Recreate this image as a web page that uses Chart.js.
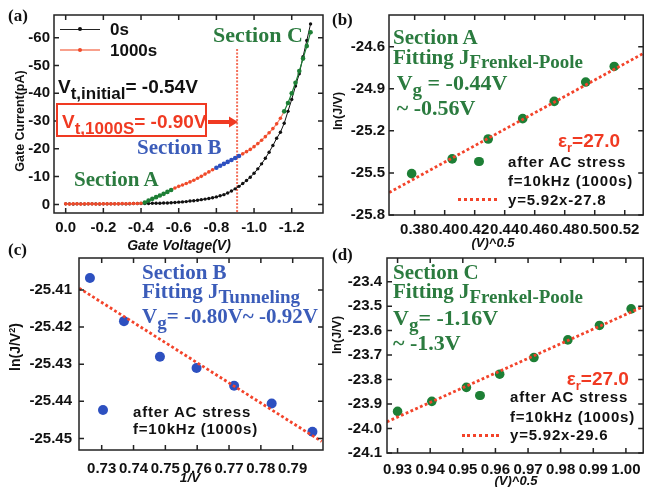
<!DOCTYPE html>
<html>
<head>
<meta charset="utf-8">
<script src="https://cdn.jsdelivr.net/npm/chart.js@4.4.1/dist/chart.umd.min.js"></script>
<style>
  body { margin: 0; background: #fff; }
  #wrap { position: relative; width: 648px; height: 487px; overflow: hidden; background: #fff; }
  #wrap canvas { position: absolute; }
  .t { position: absolute; line-height: 1; white-space: nowrap; }
  .sans { font-family: "Liberation Sans", Arial, sans-serif; font-weight: bold; }
  .serif { font-family: "Liberation Serif", "Times New Roman", serif; font-weight: bold; }
  .ital { font-style: italic; }
  .sub { position: relative; }
  .leg { letter-spacing: 0.8px; }
  .dot { position: absolute; border-radius: 50%; }
</style>
</head>
<body>
<div id="wrap">
  <canvas id="chartA" width="330" height="240" style="left:0;top:0"></canvas>
  <canvas id="chartB" width="323" height="240" style="left:325px;top:0"></canvas>
  <canvas id="chartC" width="330" height="247" style="left:0;top:240px"></canvas>
  <canvas id="chartD" width="323" height="247" style="left:325px;top:240px"></canvas>
</div>
<script>
// (a) gate current (pA) vs gate voltage (V)
const aVolt = [0, -0.02, -0.04, -0.06, -0.08, -0.10, -0.12, -0.14, -0.16, -0.18, -0.20, -0.22,
  -0.24, -0.26, -0.28, -0.30, -0.32, -0.34, -0.36, -0.38, -0.40, -0.42, -0.44, -0.46, -0.48,
  -0.50, -0.52, -0.54, -0.56, -0.58, -0.60, -0.62, -0.64, -0.66, -0.68, -0.70, -0.72, -0.74,
  -0.76, -0.78, -0.80, -0.82, -0.84, -0.86, -0.88, -0.90, -0.92, -0.94, -0.96, -0.98, -1.00,
  -1.02, -1.04, -1.06, -1.08, -1.10, -1.12, -1.14, -1.16, -1.18, -1.20, -1.22, -1.24, -1.26,
  -1.28, -1.30];
const aCur0s = [-0.2, -0.2, -0.1, -0.2, -0.2, -0.1, -0.2, -0.2, -0.2, -0.1, -0.2, -0.2,
  -0.2, -0.2, -0.2, -0.2, -0.2, -0.2, -0.3, -0.3, -0.3, -0.3, -0.3, -0.4, -0.4,
  -0.4, -0.5, -0.5, -0.6, -0.7, -0.8, -0.9, -1.0, -1.2, -1.3, -1.5, -1.7, -1.9,
  -2.1, -2.4, -2.7, -3.1, -3.5, -4.1, -4.8, -5.6, -6.5, -7.5, -8.6, -9.8, -11.2,
  -12.8, -14.6, -16.6, -18.8, -21.2, -23.8, -26.0, -29.2, -33.5, -37.8, -42.6, -47.0, -53.2,
  -59.0, -65.0];
const aCur1000s = [-0.2, -0.1, -0.2, -0.2, -0.1, -0.2, -0.2, -0.2, -0.1, -0.2, -0.2, -0.2,
  -0.2, -0.2, -0.2, -0.3, -0.2, -0.3, -0.3, -0.3, -0.4, -0.7, -1.4, -2.0, -2.6,
  -3.2, -3.8, -4.5, -5.2, -5.9, -6.5, -7.0, -7.5, -8.1, -8.7, -9.4, -10.1, -10.9,
  -11.7, -12.5, -13.2, -13.9, -14.6, -15.3, -16.0, -16.7, -17.4, -18.2, -19.0, -19.8, -20.8,
  -21.9, -23.1, -24.4, -25.8, -27.3, -29.0, -31.0, -33.5, -36.5, -40.0, -43.8, -48.0, -52.5,
  -57.0, -62.0];
const sectionA = [-0.42, -0.56];
const sectionB = [-0.80, -0.92];
const sectionC = [-1.16, -1.30];
const vtLineX = [-0.91, -0.91];
const vtLineY = [-56, 3.2];
const aXTicks = [0, -0.2, -0.4, -0.6, -0.8, -1.0, -1.2];
const aYTicks = [0, -10, -20, -30, -40, -50, -60];

// (b) section A, Frenkel-Poole
const bX = [0.378, 0.405, 0.429, 0.452, 0.473, 0.494, 0.513];
const bY = [-25.505, -25.400, -25.258, -25.113, -24.990, -24.852, -24.741];
const bFitX = [0.363, 0.532];
const bFitY = [-25.64, -24.65];
const bXTicks = [0.38, 0.40, 0.42, 0.44, 0.46, 0.48, 0.50, 0.52];
const bYTicks = [-24.6, -24.9, -25.2, -25.5, -25.8];

// (c) section B, tunneling
const cX = [0.7263, 0.7370, 0.7483, 0.7598, 0.7716, 0.7834, 0.7962];
const cY = [-25.4068, -25.4184, -25.4280, -25.4310, -25.4358, -25.4406, -25.4482];
const cFitX = [0.7229, 0.7991];
const cFitY = [-25.4095, -25.4508];
const cXTicks = [0.73, 0.74, 0.75, 0.76, 0.77, 0.78, 0.79];
const cYTicks = [-25.41, -25.42, -25.43, -25.44, -25.45];

// (d) section C, Frenkel-Poole
const dX = [0.9300, 0.9405, 0.9511, 0.9613, 0.9718, 0.9822, 0.9919, 1.0016];
const dY = [-23.930, -23.889, -23.832, -23.778, -23.710, -23.638, -23.579, -23.511];
const dFitX = [0.9267, 1.0053];
const dFitY = [-23.973, -23.502];
const dXTicks = [0.93, 0.94, 0.95, 0.96, 0.97, 0.98, 0.99, 1.00];
const dYTicks = [-23.4, -23.5, -23.6, -23.7, -23.8, -23.9, -24.0, -24.1];

const GREEN = '#2b7b3f', GREEN_DOT = '#1d7f35';
const BLUE = '#3b5cb9', BLUE_DOT = '#2d50c0';
const RED = '#f03a22', FIT_RED = '#f3432a';

const pts = (xs, ys) => xs.map((x, i) => ({ x, y: ys[i] }));

function inSec(v, s) { return v <= s[0] && v >= s[1]; }
function secColor(v) {
  if (inSec(v, sectionA) || inSec(v, sectionC)) return GREEN_DOT;
  if (inSec(v, sectionB)) return BLUE_DOT;
  return null;
}

// frame + inward tick marks on all four sides
const frameTicks = {
  id: 'frameTicks',
  afterDraw(chart) {
    const { ctx, chartArea: a, scales: { x, y } } = chart;
    ctx.save();
    ctx.strokeStyle = '#222';
    ctx.lineWidth = 1.5;
    ctx.strokeRect(a.left, a.top, a.right - a.left, a.bottom - a.top);
    ctx.beginPath();
    x.ticks.forEach(t => {
      const px = x.getPixelForValue(t.value);
      ctx.moveTo(px, a.bottom); ctx.lineTo(px, a.bottom - 5);
      ctx.moveTo(px, a.top); ctx.lineTo(px, a.top + 5);
    });
    y.ticks.forEach(t => {
      const py = y.getPixelForValue(t.value);
      ctx.moveTo(a.left, py); ctx.lineTo(a.left + 5, py);
      ctx.moveTo(a.right, py); ctx.lineTo(a.right - 5, py);
    });
    ctx.stroke();
    ctx.restore();
  }
};

function scale(min, max, values, digits, reverse, pad, fit) {
  return {
    type: 'linear', min, max, reverse,
    grid: { display: false, drawTicks: false },
    border: { display: false },
    afterBuildTicks: s => { s.ticks = values.map(v => ({ value: v })); },
    afterFit: fit,
    ticks: {
      autoSkip: false, maxRotation: 0, minRotation: 0, padding: pad, color: '#111',
      font: { family: 'Liberation Sans', weight: 'bold', size: 15 },
      callback: v => v.toFixed(digits)
    }
  };
}
const fixW = w => s => { s.width = w; s.paddingTop = 0; s.paddingBottom = 0; };
const fixH = h => s => { s.height = h; s.paddingLeft = 0; s.paddingRight = 0; };

function makeChart(id, datasets, xs, ys, top, right) {
  return new Chart(document.getElementById(id), {
    type: 'scatter',
    data: { datasets },
    options: {
      responsive: false, animation: false, devicePixelRatio: 1,
      layout: { padding: { left: 0, top, right, bottom: 0 } },
      plugins: { legend: { display: false }, tooltip: { enabled: false } },
      scales: { x: xs, y: ys }
    },
    plugins: [frameTicks]
  });
}

// (a)
makeChart('chartA', [
  {
    data: pts(vtLineX, vtLineY), showLine: true, pointRadius: 0,
    borderColor: '#f4705a', borderWidth: 2, borderDash: [2, 1.5], order: 3
  },
  {
    data: pts(aVolt, aCur0s), showLine: true, borderColor: '#111', borderWidth: 1,
    pointRadius: 1.7, pointBackgroundColor: '#111', pointBorderWidth: 0, order: 2
  },
  {
    data: pts(aVolt, aCur1000s), showLine: true, borderColor: '#f5866e', borderWidth: 1.2,
    pointRadius: ctx => secColor(aVolt[ctx.dataIndex]) ? 2.3 : 1.8,
    pointBackgroundColor: ctx => secColor(aVolt[ctx.dataIndex]) || '#f04a2a',
    pointBorderWidth: 0,
    segment: {
      borderColor: ctx => {
        const c0 = secColor(aVolt[ctx.p0DataIndex]), c1 = secColor(aVolt[ctx.p1DataIndex]);
        return c0 && c0 === c1 ? c0 : '#f5866e';
      }
    },
    order: 1
  }
], scale(-1.366, 0.062, aXTicks, 1, true, 6, fixH(27)),
   scale(-68.2, 3.1, aYTicks, 0, true, 4, fixW(54)), 15, 7);

// (b)
makeChart('chartB', [
  { data: pts(bFitX, bFitY), showLine: true, pointRadius: 0, borderColor: FIT_RED,
    borderWidth: 2.8, borderDash: [2.8, 2.4], order: 0 },
  { data: pts(bX, bY), pointRadius: 4.8, pointBackgroundColor: GREEN_DOT, pointBorderWidth: 0, order: 1 }
], scale(0.3629, 0.5323, bXTicks, 2, false, 6, fixH(25)),
   scale(-25.8, -24.374, bYTicks, 1, false, 4, fixW(64)), 15, 1);

// (c)
makeChart('chartC', [
  { data: pts(cFitX, cFitY), showLine: true, pointRadius: 0, borderColor: FIT_RED,
    borderWidth: 2.8, borderDash: [2.8, 2.4], order: 0 },
  { data: pts(cX, cY), pointRadius: 5, pointBackgroundColor: BLUE_DOT, pointBorderWidth: 0, order: 1 }
], scale(0.72287, 0.79952, cXTicks, 2, false, 10, fixH(37)),
   scale(-25.4531, -25.4014, cYTicks, 2, false, 7, fixW(79)), 18, 7);

// (d)
makeChart('chartD', [
  { data: pts(dFitX, dFitY), showLine: true, pointRadius: 0, borderColor: FIT_RED,
    borderWidth: 2.8, borderDash: [2.8, 2.4], order: 0 },
  { data: pts(dX, dY), pointRadius: 4.8, pointBackgroundColor: GREEN_DOT, pointBorderWidth: 0, order: 1 }
], scale(0.92676, 1.0053, dXTicks, 2, false, 8, fixH(34)),
   scale(-24.1, -23.3033, dYTicks, 1, false, 5, fixW(62)), 18, 1);

// ---- text overlays ----
const wrap = document.getElementById('wrap');

function txt(html, x, base, size, cls, color, extra) {
  const d = document.createElement('div');
  d.className = 't ' + cls + (extra ? ' ' + extra : '');
  d.style.left = x + 'px';
  d.style.top = (base - size * (cls === 'serif' ? 0.8375 : 0.8465)) + 'px';
  d.style.fontSize = size + 'px';
  d.style.color = color;
  d.innerHTML = html;
  wrap.appendChild(d);
  return d;
}
function ctxt(html, cx, cy, size, cls, color, rot) {
  const d = document.createElement('div');
  d.className = 't ' + cls;
  d.style.left = cx + 'px';
  d.style.top = cy + 'px';
  d.style.fontSize = size + 'px';
  d.style.color = color;
  d.style.transform = 'translate(-50%,-50%)' + (rot ? ' rotate(-90deg)' : '');
  d.innerHTML = html;
  wrap.appendChild(d);
}
function dot(cx, cy, r, color) {
  const d = document.createElement('div');
  d.className = 'dot';
  d.style.cssText += `left:${cx - r}px;top:${cy - r}px;width:${2 * r}px;height:${2 * r}px;background:${color}`;
  wrap.appendChild(d);
}
function bar(x, y, w, h, color) {
  const d = document.createElement('div');
  d.style.cssText = `position:absolute;left:${x}px;top:${y}px;width:${w}px;height:${h}px;background:${color}`;
  wrap.appendChild(d);
}
function dotted(x, y, w) {
  const d = document.createElement('div');
  d.style.cssText = `position:absolute;left:${x}px;top:${y - 1.5}px;width:${w}px;height:0;border-top:3px dotted ${FIT_RED}`;
  wrap.appendChild(d);
}
const sub = (s, size, dy) => `<span class="sub" style="font-size:${size}px;top:${dy}px">${s}</span>`;

// axis titles
ctxt('Gate Current(pA)', 20, 121, 12.5, 'sans', '#111', true);
ctxt('Gate Voltage(V)', 179, 245, 14, 'sans ital', '#111');
ctxt('ln(J/V)', 338, 111, 12.5, 'sans', '#111', true);
ctxt('(V)^0.5', 493, 242, 13, 'sans ital', '#111');
ctxt('ln(J/V<sup style="font-size:9px">2</sup>)', 15, 347, 14, 'sans', '#111', true);
ctxt('1/V', 190, 478, 13.5, 'sans ital', '#111');
ctxt('ln(J/V)', 337, 335, 12.5, 'sans', '#111', true);
ctxt('(V)^0.5', 516, 480, 13, 'sans ital', '#111');

// (a)
txt('(a)', 8, 21, 17, 'serif', '#111');
bar(60, 28.5, 40, 1, '#222'); dot(80, 29, 2, '#111');
bar(60, 49, 40, 2, '#f8a08c'); dot(80, 50, 2, '#f04a2a');
txt('0s', 110, 35, 17, 'sans', '#111');
txt('1000s', 110, 56.5, 17, 'sans', '#111');
txt('Section C', 213, 42, 22, 'serif', GREEN);
txt('V' + sub('t,initial', 17, 6) + '= -0.54V', 58, 93.3, 19, 'sans', '#111');
const box = document.createElement('div');
box.style.cssText = `position:absolute;left:56px;top:103px;width:151px;height:34px;box-sizing:border-box;border:2px solid ${RED};background:#fff`;
wrap.appendChild(box);
txt('V' + sub('t,1000S', 17, 6) + '= -0.90V', 62, 128.3, 19, 'sans', RED);
wrap.insertAdjacentHTML('beforeend',
  `<svg style="position:absolute;left:208px;top:114px" width="32" height="16">
     <rect x="0" y="6" width="23" height="4" fill="${RED}"/>
     <polygon points="21,2.5 30,8 21,13.5" fill="${RED}"/></svg>`);
txt('Section B', 137, 155, 21, 'serif', BLUE);
txt('Section A', 74, 186.7, 21, 'serif', GREEN);

// (b)
txt('(b)', 332, 25, 17, 'serif', '#111');
txt('Section A', 393, 45, 21, 'serif', GREEN);
txt('Fitting J' + sub('Frenkel-Poole', 19, 4), 393, 65, 21, 'serif', GREEN);
txt('V' + sub('g', 19, 6) + ' = -0.44V', 396.7, 90, 22, 'serif', GREEN);
txt('~ -0.56V', 396.7, 115, 22, 'serif', GREEN);
txt('ε' + sub('r', 13, 5) + '=27.0', 558, 146.7, 19, 'sans', RED);
dot(479, 161.7, 4.8, GREEN_DOT);
txt('after AC stress', 508, 166.7, 15, 'sans', '#111', 'leg');
txt('f=10kHz (1000s)', 508, 186, 15, 'sans', '#111', 'leg');
dotted(458, 199.3, 39);
txt('y=5.92x-27.8', 508, 205, 15, 'sans', '#111', 'leg');

// (c)
txt('(c)', 8, 255, 17, 'serif', '#111');
txt('Section B', 142, 280, 21, 'serif', BLUE);
txt('Fitting J' + sub('Tunneling', 19, 5), 142, 298.3, 21, 'serif', BLUE);
txt('V' + sub('g', 19, 6) + '= -0.80V~ -0.92V', 142, 323.3, 21, 'serif', BLUE);
dot(103.3, 410, 5, BLUE_DOT);
txt('after AC stress', 133, 416.7, 15, 'sans', '#111', 'leg');
txt('f=10kHz (1000s)', 133, 433.5, 15, 'sans', '#111', 'leg');

// (d)
txt('(d)', 332, 260, 17, 'serif', '#111');
txt('Section C', 393, 280, 21, 'serif', GREEN);
txt('Fitting J' + sub('Frenkel-Poole', 19, 5), 393, 298.3, 21, 'serif', GREEN);
txt('V' + sub('g', 19, 6) + '= -1.16V', 393, 325, 22, 'serif', GREEN);
txt('~ -1.3V', 393, 350, 22, 'serif', GREEN);
txt('ε' + sub('r', 13, 5) + '=27.0', 566.7, 385, 19, 'sans', RED);
dot(480, 395.7, 4.8, GREEN_DOT);
txt('after AC stress', 510, 401.7, 15, 'sans', '#111', 'leg');
txt('f=10kHz (1000s)', 510, 421.7, 15, 'sans', '#111', 'leg');
dotted(461.7, 435, 37);
txt('y=5.92x-29.6', 510, 440, 15, 'sans', '#111', 'leg');
</script>
</body>
</html>
